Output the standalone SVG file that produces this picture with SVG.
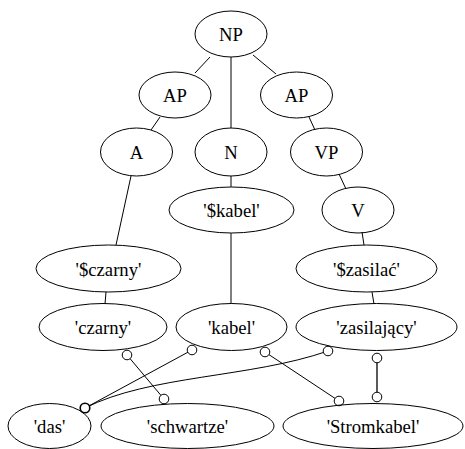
<svg xmlns="http://www.w3.org/2000/svg" width="465" height="449" viewBox="0 0 465 449">
<style>
  ellipse { fill: none; stroke: #000; stroke-width: 1; }
  .t { font-size: 18.67px; text-anchor: middle; fill: #000; }
  .e line, .e path { stroke: #000; stroke-width: 1; fill: none; }
  .e circle { fill: #fff; stroke: #000; stroke-width: 1; }
</style>
<rect width="465" height="449" fill="#fff"/>
<g id="edges" class="e">
  <line x1="210" y1="57" x2="195" y2="73"/>
  <line x1="231" y1="57" x2="231" y2="128"/>
  <line x1="253" y1="55" x2="276" y2="74"/>
  <line x1="160" y1="117" x2="151" y2="130"/>
  <line x1="309" y1="117" x2="315" y2="130"/>
  <line x1="131" y1="176" x2="116" y2="245"/>
  <line x1="231" y1="176" x2="231" y2="187"/>
  <line x1="339" y1="174" x2="346" y2="189"/>
  <line x1="231" y1="233" x2="231" y2="304"/>
  <line x1="362" y1="232" x2="364" y2="245"/>
  <line x1="106" y1="292" x2="105" y2="304"/>
  <line x1="372" y1="292" x2="374" y2="304"/>
  <line x1="127" y1="355" x2="164" y2="399"/>
  <circle cx="127" cy="355" r="4.8"/>
  <circle cx="164" cy="399" r="4.8"/>
  <line x1="192" y1="350" x2="85" y2="408"/>
  <path d="M85,408 C150,375 250,378 328,351"/>
  <circle cx="192" cy="350" r="4.8"/>
  <circle cx="328" cy="351" r="4.8"/>
  <circle cx="85" cy="408" r="4.8" style="stroke-width:1.6"/>
  <line x1="265" y1="352" x2="339" y2="401"/>
  <circle cx="265" cy="352" r="4.8"/>
  <circle cx="339" cy="401" r="4.8"/>
  <line x1="377" y1="358" x2="377" y2="397" style="stroke-width:1.3"/>
  <circle cx="377" cy="358" r="4.8"/>
  <circle cx="377" cy="397" r="4.8"/>
</g>
<g font-family="'Liberation Serif', 'DejaVu Serif', serif">
<g id="NP"><ellipse cx="231" cy="34" rx="36" ry="23"/><text class="t" x="231" y="41">NP</text></g>
<g id="AP1"><ellipse cx="175" cy="95" rx="36" ry="23"/><text class="t" x="175" y="102">AP</text></g>
<g id="AP2"><ellipse cx="296.5" cy="95" rx="36" ry="23"/><text class="t" x="296.5" y="102">AP</text></g>
<g id="A"><ellipse cx="136.5" cy="152" rx="36" ry="24"/><text class="t" x="136.5" y="159">A</text></g>
<g id="N"><ellipse cx="231" cy="152" rx="36" ry="24"/><text class="t" x="231" y="159">N</text></g>
<g id="VP"><ellipse cx="326.5" cy="152" rx="36" ry="24"/><text class="t" x="326.5" y="159">VP</text></g>
<g id="skabel"><ellipse cx="231.5" cy="210" rx="62.5" ry="23"/><text class="t" x="231.5" y="217">'$kabel'</text></g>
<g id="V"><ellipse cx="358" cy="210" rx="36" ry="23"/><text class="t" x="358" y="217">V</text></g>
<g id="sczarny"><ellipse cx="108.5" cy="268.5" rx="72.5" ry="23.5"/><text class="t" x="108.5" y="275.5">'$czarny'</text></g>
<g id="szasilac"><ellipse cx="366.5" cy="268.5" rx="70.5" ry="23.5"/><text class="t" x="366.5" y="275.5">'$zasilać'</text></g>
<g id="czarny"><ellipse cx="103" cy="327" rx="64" ry="23.5"/><text class="t" x="103" y="334">'czarny'</text></g>
<g id="kabel"><ellipse cx="231.5" cy="327" rx="55.5" ry="23.5"/><text class="t" x="231.5" y="334">'kabel'</text></g>
<g id="zasilajacy"><ellipse cx="376.5" cy="327" rx="80.5" ry="23.5"/><text class="t" x="376.5" y="334">'zasilający'</text></g>
<g id="das"><ellipse cx="49.5" cy="426" rx="41.5" ry="22.5"/><text class="t" x="49.5" y="433">'das'</text></g>
<g id="schwartze"><ellipse cx="187.5" cy="426" rx="86.5" ry="22.5"/><text class="t" x="187.5" y="433">'schwartze'</text></g>
<g id="Stromkabel"><ellipse cx="373" cy="426" rx="90" ry="22.5"/><text class="t" x="373" y="433">'Stromkabel'</text></g>
</g>
</svg>
